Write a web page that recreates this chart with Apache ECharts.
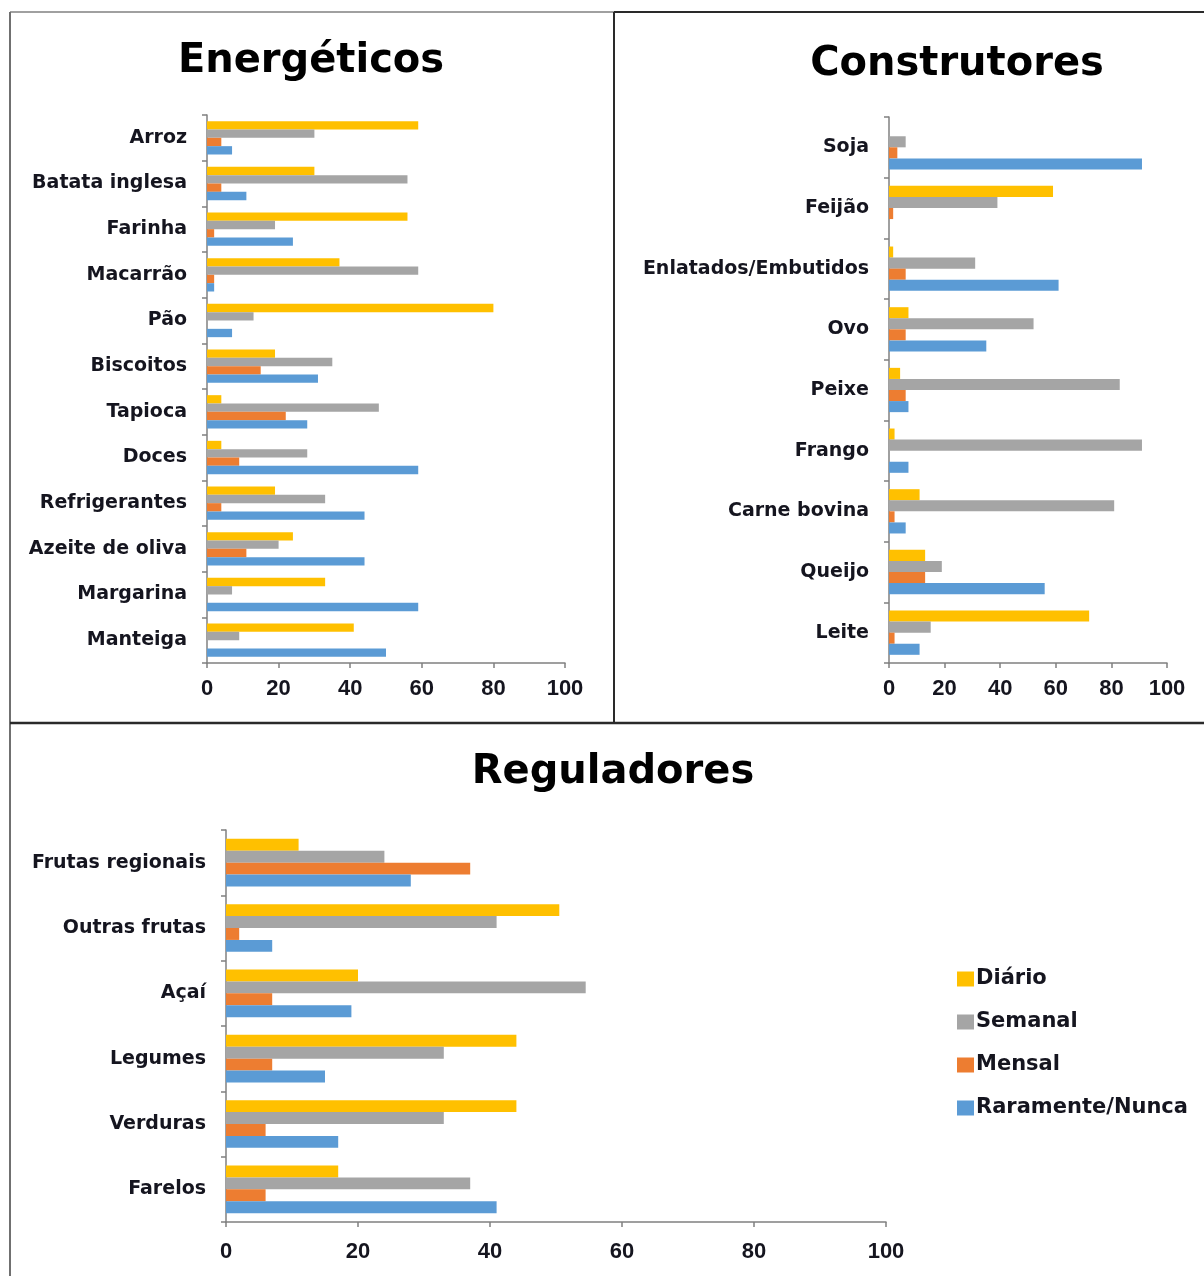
<!DOCTYPE html>
<html>
<head>
<meta charset="utf-8">
<script src="https://cdn.jsdelivr.net/npm/echarts@6/dist/echarts.min.js"></script>
<style>html,body{margin:0;padding:0;background:#fff;}#c{width:1204px;height:1276px;}</style>
</head>
<body>
<div id="c"></div>
<script>
const seriesNames = ['Diário', 'Semanal', 'Mensal', 'Raramente/Nunca'];
const colors = ['#FFC000', '#A5A5A5', '#ED7D31', '#5B9BD5'];
const xTicks = [0, 20, 40, 60, 80, 100];

const energCats = ['Arroz', 'Batata inglesa', 'Farinha', 'Macarrão', 'Pão', 'Biscoitos', 'Tapioca', 'Doces', 'Refrigerantes', 'Azeite de oliva', 'Margarina', 'Manteiga'];
const energDiario = [59, 30, 56, 37, 80, 19, 4, 4, 19, 24, 33, 41];
const energSemanal = [30, 56, 19, 59, 13, 35, 48, 28, 33, 20, 7, 9];
const energMensal = [4, 4, 2, 2, 0, 15, 22, 9, 4, 11, 0, 0];
const energRaro = [7, 11, 24, 2, 7, 31, 28, 59, 44, 44, 59, 50];

const construtCats = ['Soja', 'Feijão', 'Enlatados/Embutidos', 'Ovo', 'Peixe', 'Frango', 'Carne bovina', 'Queijo', 'Leite'];
const construtDiario = [0, 59, 1.5, 7, 4, 2, 11, 13, 72];
const construtSemanal = [6, 39, 31, 52, 83, 91, 81, 19, 15];
const construtMensal = [3, 1.5, 6, 6, 6, 0, 2, 13, 2];
const construtRaro = [91, 0, 61, 35, 7, 7, 6, 56, 11];

const regulCats = ['Frutas regionais', 'Outras frutas', 'Açaí', 'Legumes', 'Verduras', 'Farelos'];
const regulDiario = [11, 50.5, 20, 44, 44, 17];
const regulSemanal = [24, 41, 54.5, 33, 33, 37];
const regulMensal = [37, 2, 7, 7, 6, 6];
const regulRaro = [28, 7, 19, 15, 17, 41];

const titles = ['Energéticos', 'Construtores', 'Reguladores'];

const panels = [
  {cats: energCats, data: [energDiario, energSemanal, energMensal, energRaro]},
  {cats: construtCats, data: [construtDiario, construtSemanal, construtMensal, construtRaro]},
  {cats: regulCats, data: [regulDiario, regulSemanal, regulMensal, regulRaro]}
];

const grids = [
  {left: 207, top: 115, width: 358, height: 548},
  {left: 889, top: 117, width: 278, height: 546},
  {left: 226, top: 830, width: 660, height: 392}
];
const xMargins = [15, 15, 19];

const axisColor = '#808080';
const textColor = '#15151f';

const xAxes = grids.map((g, i) => ({
  type: 'value', gridIndex: i, min: xTicks[0], max: xTicks[xTicks.length - 1],
  interval: xTicks[1] - xTicks[0],
  axisLine: {show: true, lineStyle: {color: axisColor, width: 1.5}},
  axisTick: {show: true, length: 5, lineStyle: {color: axisColor, width: 1.5}},
  splitLine: {show: false},
  axisLabel: {margin: xMargins[i], fontFamily: 'Liberation Sans', fontWeight: 'bold', fontSize: 22, color: textColor}
}));

const yAxes = panels.map((p, i) => ({
  type: 'category', gridIndex: i, data: p.cats, inverse: true,
  axisLine: {show: true, lineStyle: {color: axisColor, width: 1.5}},
  axisTick: {show: true, length: 5, lineStyle: {color: axisColor, width: 1.5}},
  axisLabel: {margin: 20, fontFamily: 'DejaVu Sans', fontWeight: 'bold', fontSize: 19, color: textColor}
}));

const series = [];
panels.forEach((p, i) => {
  p.data.forEach((d, k) => {
    series.push({
      type: 'bar', name: seriesNames[k], xAxisIndex: i, yAxisIndex: i,
      data: d, barGap: '0%', barCategoryGap: '27%',
      itemStyle: {color: colors[k]}, silent: true
    });
  });
});

const lineDark = '#2a2a2a';
const graphics = [
  {type: 'line', shape: {x1: 10, y1: 12, x2: 614, y2: 12}, style: {stroke: '#a0a0a0', lineWidth: 2}},
  {type: 'line', shape: {x1: 614, y1: 12, x2: 1204, y2: 12}, style: {stroke: lineDark, lineWidth: 2}},
  {type: 'line', shape: {x1: 10, y1: 12, x2: 10, y2: 1276}, style: {stroke: '#707070', lineWidth: 2}},
  {type: 'line', shape: {x1: 614, y1: 12, x2: 614, y2: 723}, style: {stroke: lineDark, lineWidth: 2}},
  {type: 'line', shape: {x1: 10, y1: 723, x2: 1204, y2: 723}, style: {stroke: lineDark, lineWidth: 2.5}},
  {type: 'text', x: 311, y: 62, style: {text: titles[0], fontFamily: 'DejaVu Sans', fontWeight: 'bold', fontSize: 40, fill: '#000', textAlign: 'center', textVerticalAlign: 'middle'}},
  {type: 'text', x: 957, y: 65, style: {text: titles[1], fontFamily: 'DejaVu Sans', fontWeight: 'bold', fontSize: 40, fill: '#000', textAlign: 'center', textVerticalAlign: 'middle'}},
  {type: 'text', x: 613, y: 773, style: {text: titles[2], fontFamily: 'DejaVu Sans', fontWeight: 'bold', fontSize: 40, fill: '#000', textAlign: 'center', textVerticalAlign: 'middle'}}
];

const chart = echarts.init(document.getElementById('c'), null, {renderer: 'canvas'});
chart.setOption({
  animation: false,
  backgroundColor: '#fff',
  grid: grids.map(g => Object.assign({containLabel: false}, g)),
  xAxis: xAxes,
  yAxis: yAxes,
  legend: {
    data: seriesNames, orient: 'vertical', left: 952, top: 963,
    itemWidth: 17, itemHeight: 15, itemGap: 21,
    icon: 'rect',
    textStyle: {fontFamily: 'DejaVu Sans', fontWeight: 'bold', fontSize: 21, color: textColor, lineHeight: 22, padding: [0, 0, 0, -3]}
  },
  series: series,
  graphic: graphics
});
</script>
</body>
</html>
